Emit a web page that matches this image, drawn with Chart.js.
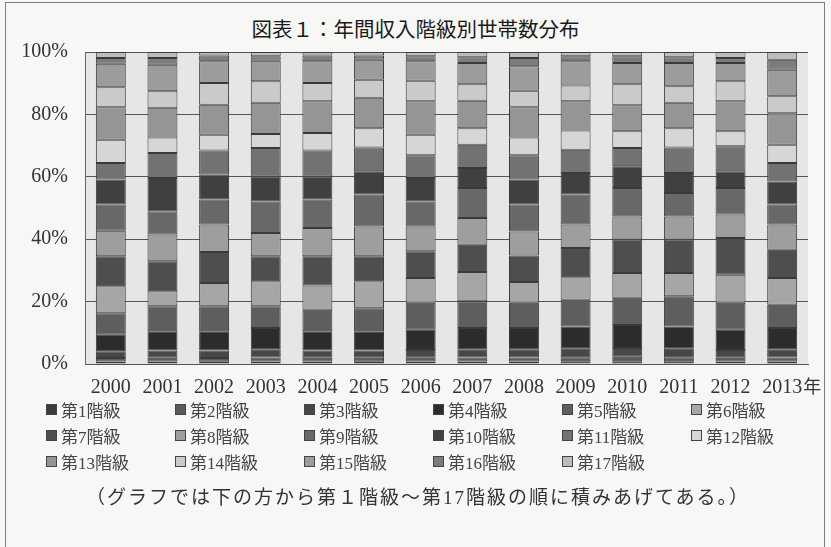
<!DOCTYPE html>
<html lang="ja">
<head>
<meta charset="utf-8">
<script src="https://cdn.jsdelivr.net/npm/chart.js@4/dist/chart.umd.min.js"></script>
<style>
    body {
        margin: 0;
        width: 831px;
        height: 547px;
        background: #f7f7f5;
        overflow: hidden;
        position: relative;
    }
    #frame {
        position: absolute;
        left: 5px;
        top: 2px;
        width: 818px;
        height: 570px;
        border: 1px solid #808080;
    }
    #chart-box {
        position: absolute;
        left: 0;
        top: 0;
        width: 831px;
        height: 547px;
    }
    #title {
        position: absolute;
        top: 13px;
        left: 0;
        width: 831px;
        text-align: center;
        font-family: 'Noto Sans CJK JP', sans-serif;
        font-size: 20.5px;
        font-weight: 400;
        color: #1a1a1a;
    }
    #legend {
        position: absolute;
        left: 46px;
        top: 396px;
        display: grid;
        grid-template-columns: repeat(6, 129px);
        grid-auto-rows: 26px;
        font-family: 'Liberation Serif', 'Noto Sans CJK JP', serif;
        font-size: 17px;
        color: #444;
    }
    #legend .item {
        display: flex;
        align-items: center;
    }
    #legend .box {
        width: 9px;
        height: 9px;
        border: 1px solid #444;
        margin-right: 4px;
    }
    #note {
        position: absolute;
        top: 482px;
        left: 0;
        width: 836px;
        text-align: center;
        font-family: 'Liberation Serif', 'Noto Sans CJK JP', serif;
        font-size: 19px;
        letter-spacing: 2px;
        color: #333;
    }
</style>
</head>
<body>
<div id="frame"></div>
<div id="title">図表１：年間収入階級別世帯数分布</div>
<div id="chart-box"><canvas id="income-chart" width="831" height="547"></canvas></div>
<div id="legend"></div>
<div id="note">（グラフでは下の方から第１階級〜第17階級の順に積みあげてある。）</div>

<script>
const years = ['2000', '2001', '2002', '2003', '2004', '2005', '2006', '2007', '2008', '2009', '2010', '2011', '2012', '2013'];
const classLabels = ['第1階級', '第2階級', '第3階級', '第4階級', '第5階級', '第6階級', '第7階級', '第8階級', '第9階級',
    '第10階級', '第11階級', '第12階級', '第13階級', '第14階級', '第15階級', '第16階級', '第17階級'];
const yTicks = [0, 20, 40, 60, 80, 100];

// share of households (%) per class, 2000..2013
const class1 = [0.8, 0.8, 0.7, 0.8, 0.8, 0.7, 0.8, 0.8, 0.8, 0.9, 0.9, 0.9, 0.8, 0.8];
const class2 = [1.1, 1.2, 1.2, 1.3, 1.2, 1.3, 1.2, 1.3, 1.3, 1.3, 1.4, 1.3, 1.2, 1.3];
const class3 = [2.2, 2.3, 2.4, 2.6, 2.3, 2.3, 2.5, 2.6, 2.6, 2.7, 2.8, 2.7, 2.5, 2.6];
const class4 = [5.3, 6.2, 6.2, 6.8, 6.2, 6.2, 6.5, 6.8, 6.8, 7.1, 7.4, 7.1, 6.5, 6.8];
const class5 = [6.9, 8.0, 8.0, 7.0, 6.9, 7.4, 8.6, 8.6, 8.1, 8.6, 8.7, 9.7, 8.6, 7.5];
const class6 = [8.6, 4.8, 7.5, 8.0, 7.8, 8.6, 8.0, 9.4, 6.7, 7.2, 8.0, 7.5, 9.0, 8.6];
const class7 = [9.6, 9.6, 9.9, 8.0, 9.3, 8.0, 8.5, 8.7, 8.5, 9.4, 10.7, 10.7, 11.8, 9.0];
const class8 = [8.2, 8.6, 8.8, 7.5, 9.1, 9.6, 8.0, 8.6, 7.7, 7.5, 7.4, 7.4, 7.5, 8.1];
const class9 = [8.4, 7.4, 8.0, 10.1, 9.1, 10.2, 8.0, 9.6, 8.6, 9.6, 9.1, 7.5, 8.5, 6.4];
const class10 = [8.0, 10.7, 8.0, 8.0, 7.4, 7.5, 7.5, 6.4, 8.0, 6.9, 7.0, 6.4, 5.4, 7.4];
const class11 = [5.3, 8.0, 7.7, 9.1, 8.3, 7.6, 7.3, 7.5, 7.8, 7.5, 5.8, 8.2, 8.0, 5.9];
const class12 = [7.5, 5.0, 5.1, 4.5, 5.6, 6.2, 6.6, 5.3, 5.7, 6.1, 5.4, 6.2, 4.8, 5.9];
const class13 = [10.4, 9.5, 9.6, 10.0, 10.2, 9.7, 10.7, 8.8, 9.7, 9.4, 8.3, 8.1, 9.6, 10.1];
const class14 = [6.4, 5.3, 7.0, 6.9, 5.9, 5.8, 6.6, 5.3, 5.3, 5.1, 6.8, 5.3, 6.4, 5.4];
const class15 = [7.5, 8.5, 6.9, 6.6, 6.9, 6.4, 6.2, 6.8, 7.8, 7.7, 6.8, 7.5, 5.9, 8.5];
const class16 = [1.9, 2.2, 1.9, 1.4, 1.9, 1.4, 1.6, 1.8, 2.7, 1.6, 2.1, 1.8, 1.6, 3.2];
const class17 = [1.9, 1.9, 1.1, 1.4, 1.1, 1.1, 1.4, 1.7, 1.9, 1.4, 1.4, 1.7, 1.9, 2.5];

const classData = [class1, class2, class3, class4, class5, class6, class7, class8, class9,
    class10, class11, class12, class13, class14, class15, class16, class17];

const classColors = ['#3a3a3a', '#5a5a5a', '#474747', '#2c2c2c', '#5e5e5e', '#a6a6a6', '#4e4e4e', '#9e9e9e', '#686868',
    '#404040', '#727272', '#d6d6d6', '#959595', '#cacaca', '#9c9c9c', '#7c7c7c', '#bdbdbd'];

const datasets = classLabels.map((label, i) => ({
    label: label,
    data: classData[i],
    backgroundColor: classColors[i],
    borderColor: '#3a3a3a',
    borderWidth: 1,
    borderSkipped: false,
    barPercentage: 0.58,
    categoryPercentage: 1,
}));

// light gray plot area
const plotBackground = {
    id: 'plotBackground',
    beforeDraw(chart) {
        const { ctx, chartArea } = chart;
        ctx.save();
        ctx.fillStyle = '#e6e6e6';
        ctx.fillRect(chartArea.left, chartArea.top, chartArea.right - chartArea.left, chartArea.bottom - chartArea.top);
        ctx.restore();
    }
};

// "年" after the last year label
const yearSuffix = {
    id: 'yearSuffix',
    afterDraw(chart) {
        const { ctx } = chart;
        const xScale = chart.scales.x;
        const last = years.length - 1;
        ctx.save();
        ctx.font = '20px "Liberation Serif", serif';
        const w = ctx.measureText(years[last]).width;
        ctx.font = '18px "Noto Sans CJK JP", sans-serif';
        ctx.fillStyle = '#333';
        ctx.textBaseline = 'middle';
        ctx.fillText('年', xScale.getPixelForValue(last) + w / 2 + 1, xScale.top + 22);
        ctx.restore();
    }
};

const ctx = document.getElementById('income-chart').getContext('2d');
const myChart = new Chart(ctx, {
    type: 'bar',
    data: {
        labels: years,
        datasets: datasets,
    },
    options: {
        responsive: false,
        animation: false,
        layout: {
            padding: { top: 52, right: 23, bottom: 143, left: 0 },
        },
        plugins: {
            legend: { display: false },
            tooltip: { enabled: false },
        },
        scales: {
            x: {
                stacked: true,
                grid: { display: false, drawTicks: false },
                border: { display: true, color: '#555' },
                ticks: {
                    padding: 12,
                    color: '#333',
                    font: { family: 'Liberation Serif', size: 20 },
                },
                afterFit: scale => { scale.height = 40; },
            },
            y: {
                stacked: true,
                min: 0,
                max: 100,
                afterBuildTicks: scale => { scale.ticks = yTicks.map(v => ({ value: v })); },
                grid: { color: '#555', lineWidth: 1, drawTicks: false },
                border: { display: true, color: '#666' },
                ticks: {
                    padding: 17,
                    color: '#333',
                    font: { family: 'Liberation Serif', size: 20 },
                    callback: value => value + '%',
                },
                afterFit: scale => { scale.width = 85; },
            },
        },
    },
    plugins: [plotBackground, yearSuffix],
});

// html legend, 6 columns
const legendBox = document.getElementById('legend');
classLabels.forEach((label, i) => {
    const item = document.createElement('div');
    item.className = 'item';
    item.innerHTML = '<span class="box" style="background:' + classColors[i] + '"></span>' + label;
    legendBox.appendChild(item);
});
</script>
</body>
</html>
